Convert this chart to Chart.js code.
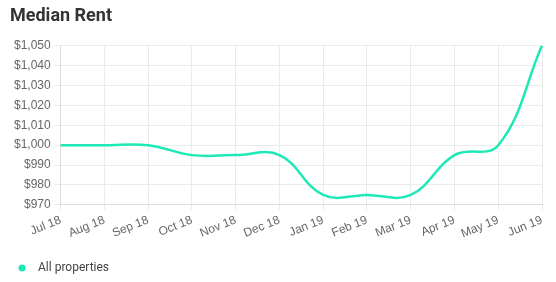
<!DOCTYPE html>
<html>
<head>
<meta charset="utf-8">
<script src="https://cdn.jsdelivr.net/npm/chart.js@4"></script>
<style>
	html, body { margin: 0; padding: 0; background: #fff; }
	#wrap { width: 556px; height: 282px; }
</style>
</head>
<body>
<div id="wrap"><canvas id="rentChart"></canvas></div>
<script>
// month labels along the x axis
const months = ['Jul 18', 'Aug 18', 'Sep 18', 'Oct 18', 'Nov 18', 'Dec 18',
	'Jan 19', 'Feb 19', 'Mar 19', 'Apr 19', 'May 19', 'Jun 19'];

// median rent per month
const medianRent = [1000, 1000, 1000, 995, 995, 995, 975, 975, 975, 995, 1000, 1050];

// y axis range
const rentMin = 970;
const rentMax = 1050;
const rentStep = 10;

const teal = '#1de9b6';

function dollars(value) {
	return '$' + Number(value).toLocaleString('en-US');
}

// small round dot for the legend (drawn as an image so the text gap can be wider)
function legendDot() {
	const c = document.createElement('canvas');
	c.width = 8;
	c.height = 8;
	const ctx = c.getContext('2d');
	ctx.fillStyle = teal;
	ctx.beginPath();
	ctx.arc(4, 4, 3.5, 0, Math.PI * 2);
	ctx.fill();
	return c;
}

new Chart(document.getElementById('rentChart'), {
	type: 'line',
	data: {
		labels: months,
		datasets: [{
			label: 'All properties',
			data: medianRent,
			borderColor: teal,
			backgroundColor: teal,
			borderWidth: 2.5,
			pointRadius: 0,
			tension: 0.4,
			fill: false
		}]
	},
	options: {
		responsive: true,
		maintainAspectRatio: false,
		animation: false,
		layout: {
			padding: { left: 10, right: 14, top: 4, bottom: -2 }
		},
		plugins: {
			title: {
				display: true,
				text: 'Median Rent',
				align: 'start',
				color: '#333',
				font: { family: 'Roboto', size: 18, weight: 'bold' },
				padding: { top: 2, bottom: 18 }
			},
			legend: {
				display: true,
				position: 'bottom',
				align: 'start',
				labels: {
					usePointStyle: true,
					pointStyle: legendDot(),
					pointStyleWidth: 20,
					boxHeight: 8,
					padding: 2,
					color: '#444',
					font: { family: 'Roboto', size: 12 }
				}
			},
			tooltip: { enabled: false }
		},
		scales: {
			x: {
				grid: { color: '#ebebeb', tickLength: 5 },
				border: { color: '#ddd' },
				ticks: {
					color: '#666',
					autoSkip: false,
					minRotation: 22,
					maxRotation: 22,
					padding: 3,
					font: { family: 'Liberation Sans', size: 12 }
				},
				// leave a gap between the month labels and the legend
				afterFit: (scale) => { scale.height += 16; }
			},
			y: {
				min: rentMin,
				max: rentMax,
				grid: { color: '#ebebeb', tickLength: 6 },
				border: { color: '#ddd' },
				ticks: {
					stepSize: rentStep,
					color: '#666',
					padding: 4,
					font: { family: 'Liberation Sans', size: 12 },
					callback: dollars
				}
			}
		}
	}
});
</script>
</body>
</html>
